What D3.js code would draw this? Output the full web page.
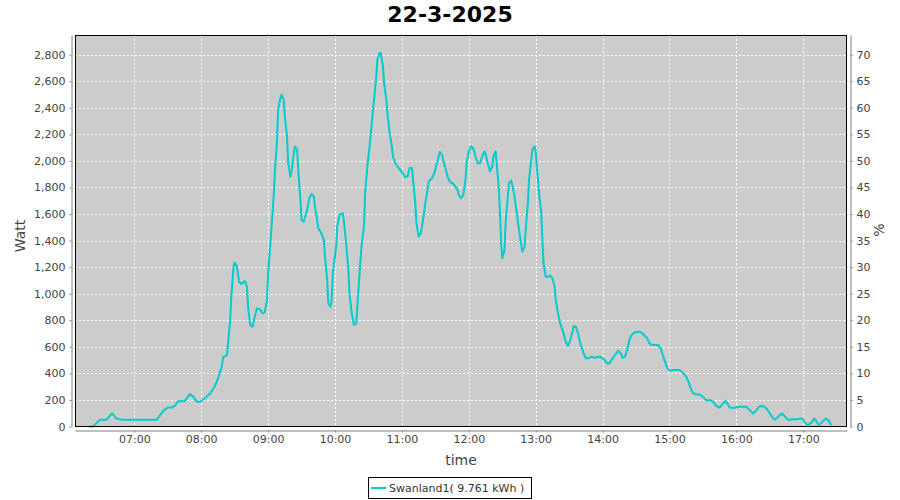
<!DOCTYPE html>
<html><head><meta charset="utf-8">
<script src="https://cdn.jsdelivr.net/npm/d3@7"></script>
<style>body{margin:0;background:#fff}svg{display:block}text{font-family:"DejaVu Sans",sans-serif}</style>
</head><body><svg id="c" width="900" height="500"></svg>
<script>
const chartTitle = "22-3-2025";
const seriesName = "Swanland1( 9.761 kWh )";
const times = ["06:19","06:23","06:29","06:35","06:40","06:44","06:49","07:20","07:26","07:30","07:34","07:37","07:39","07:45","07:50","07:53","07:56","07:59","08:03","08:08","08:12","08:15","08:18","08:20","08:23","08:24","08:26","08:27","08:29","08:30","08:32","08:34","08:36","08:39","08:41","08:42","08:44","08:46","08:48","08:50","08:53","08:55","08:57","08:59","09:00","09:02","09:03","09:05","09:06","09:08","09:09","09:11","09:12","09:14","09:15","09:17","09:18","09:20","09:21","09:23","09:24","09:26","09:27","09:29","09:30","09:32","09:35","09:37","09:39","09:41","09:42","09:44","09:45","09:47","09:50","09:51","09:53","09:54","09:56","09:57","09:58","10:01","10:02","10:04","10:07","10:08","10:10","10:12","10:13","10:15","10:17","10:19","10:20","10:22","10:24","10:26","10:27","10:29","10:31","10:33","10:35","10:37","10:38","10:40","10:41","10:43","10:44","10:46","10:47","10:49","10:51","10:52","10:54","10:56","10:58","11:00","11:03","11:05","11:07","11:09","11:10","11:12","11:13","11:15","11:17","11:19","11:21","11:23","11:24","11:27","11:29","11:31","11:33","11:34","11:36","11:37","11:39","11:41","11:43","11:46","11:48","11:50","11:51","11:53","11:55","11:57","11:58","12:00","12:02","12:04","12:06","12:08","12:10","12:12","12:14","12:15","12:17","12:19","12:21","12:22","12:24","12:25","12:27","12:28","12:29","12:30","12:32","12:33","12:35","12:36","12:38","12:39","12:41","12:43","12:45","12:47","12:48","12:50","12:51","12:53","12:54","12:56","12:57","12:59","13:00","13:01","13:03","13:05","13:06","13:07","13:09","13:11","13:13","13:15","13:17","13:18","13:20","13:22","13:25","13:27","13:29","13:31","13:33","13:34","13:36","13:38","13:40","13:43","13:45","13:47","13:50","13:53","13:57","13:59","14:02","14:04","14:06","14:08","14:11","14:14","14:16","14:18","14:20","14:22","14:24","14:26","14:29","14:32","14:35","14:37","14:40","14:42","14:44","14:50","14:52","14:54","14:56","14:58","15:01","15:03","15:09","15:12","15:15","15:17","15:19","15:21","15:24","15:27","15:30","15:33","15:37","15:39","15:42","15:45","15:48","15:50","15:52","15:54","15:57","16:03","16:09","16:12","16:15","16:18","16:21","16:24","16:27","16:30","16:33","16:35","16:38","16:41","16:44","16:47","16:50","16:54","16:59","17:01","17:04","17:07","17:10","17:12","17:14","17:17","17:20","17:23","17:25"];
const watts = [0,0,50,50,100,60,50,50,118,143,143,161,191,191,244,223,186,186,211,249,299,362,437,525,538,613,801,977,1204,1234,1204,1090,1073,1096,1053,902,764,751,826,890,880,852,860,952,1154,1370,1500,1731,1908,2159,2385,2473,2498,2461,2335,2184,1983,1882,1920,2059,2109,2084,1933,1707,1556,1543,1631,1719,1752,1731,1656,1556,1493,1468,1405,1279,1103,928,902,952,1154,1354,1505,1593,1606,1543,1380,1179,1003,852,764,777,902,1154,1380,1505,1757,1958,2109,2285,2461,2636,2762,2813,2813,2712,2587,2461,2360,2210,2109,2033,1983,1958,1938,1913,1878,1882,1946,1946,1857,1682,1531,1430,1455,1556,1682,1782,1845,1870,1908,1970,2033,2066,2046,2008,1946,1882,1845,1827,1807,1782,1744,1719,1740,1857,1983,2071,2109,2096,2033,1983,1983,2033,2071,2054,1983,1920,1958,2033,2071,1983,1782,1606,1380,1267,1330,1531,1731,1832,1852,1820,1731,1606,1480,1367,1317,1354,1480,1682,1857,2008,2084,2109,2071,1958,1757,1606,1405,1229,1128,1128,1136,1116,1053,952,852,777,701,638,606,651,713,756,751,701,626,550,513,513,525,517,525,520,500,475,475,500,538,570,555,517,525,575,651,689,709,713,706,689,664,626,613,613,588,538,487,437,419,425,425,404,374,336,287,253,241,241,223,198,198,186,153,143,173,193,173,143,140,148,148,123,98,123,153,153,136,98,60,53,78,98,72,48,55,55,60,35,8,27,60,35,8,35,60,42,10];
const leftTicks = [0,200,400,600,800,1000,1200,1400,1600,1800,2000,2200,2400,2600,2800];
const rightTicks = [0,5,10,15,20,25,30,35,40,45,50,55,60,65,70];
const hourTicks = ["07:00","08:00","09:00","10:00","11:00","12:00","13:00","14:00","15:00","16:00","17:00"];
const yLabel = "Watt", y2Label = "%", xLabel = "time";

const day = "2025-03-22T";
const parse = s => new Date(day + s + ":00");
const data = times.map((t, i) => ({t: parse(t), w: watts[i]}));

const L = 75, R = 847, T = 35, B = 426.5;
const svg = d3.select("#c");
const x = d3.scaleTime().domain([new Date(day+"06:06:48"), new Date(day+"17:39:12")]).range([L, R]);
const y = d3.scaleLinear().domain([0, 2948]).range([B, T]);
const y2 = d3.scaleLinear().domain([0, 2948/40]).range([B, T]);

svg.append("rect").attr("x", L).attr("y", T).attr("width", R-L).attr("height", B-T).attr("fill", "#cccccc");

const g = svg.append("g");
hourTicks.forEach(h => {
  const xx = Math.round(x(parse(h))) + 0.5;
  g.append("line").attr("x1", xx).attr("x2", xx).attr("y1", T).attr("y2", B)
    .attr("stroke", "#fff").attr("stroke-dasharray", "2,2");
});
leftTicks.forEach(v => {
  const yy = Math.round(y(v)) + 0.5;
  g.append("line").attr("x1", L).attr("x2", R).attr("y1", yy).attr("y2", yy)
    .attr("stroke", "#fff").attr("stroke-dasharray", "2,2");
});

const line = d3.line().x(d => x(d.t)).y(d => y(d.w));
svg.append("path").datum(data).attr("d", line).attr("fill", "none")
  .attr("stroke", "#00cccc").attr("stroke-width", 2).attr("stroke-linejoin", "round");

svg.append("rect").attr("x", L+0.5).attr("y", T+0.5).attr("width", R-L-1).attr("height", B-T-0.5)
  .attr("fill", "none").attr("stroke", "#000");

const fmtN = d3.format(",");
const axL = d3.axisLeft(y).tickValues(leftTicks).tickFormat(fmtN).tickSizeInner(2).tickSizeOuter(0).tickPadding(4);
const gL = svg.append("g").attr("transform", "translate(71.5,0)").call(axL);
const axR = d3.axisRight(y2).tickValues(rightTicks).tickSizeInner(2).tickSizeOuter(0).tickPadding(4);
const gR = svg.append("g").attr("transform", "translate(850.5,0)").call(axR);
const axB = d3.axisBottom(x).tickValues(hourTicks.map(parse)).tickFormat(d3.timeFormat("%H:%M")).tickSizeInner(2).tickSizeOuter(0).tickPadding(3);
const gB = svg.append("g").attr("transform", "translate(0,430.5)").call(axB);
[gL, gR, gB].forEach(a => {
  a.selectAll(".domain").attr("stroke", "#808080");
  a.selectAll(".tick line").attr("stroke", "#808080");
  a.selectAll("text").attr("fill", "#444").style("font-size", "11px").style("font-family", "DejaVu Sans");
});

svg.append("text").attr("x", 450).attr("y", 22).attr("text-anchor", "middle")
  .style("font-size", "22px").style("font-weight", "bold").attr("fill", "#000").text(chartTitle);
svg.append("text").attr("transform", "translate(25,236) rotate(-90)").attr("text-anchor", "middle")
  .style("font-size", "14px").attr("fill", "#444").text(yLabel);
svg.append("text").attr("transform", "translate(884,230) rotate(-90)").attr("text-anchor", "middle")
  .style("font-size", "14px").attr("fill", "#444").text(y2Label);
svg.append("text").attr("x", 461).attr("y", 465).attr("text-anchor", "middle")
  .style("font-size", "14px").attr("fill", "#444").text(xLabel);

const lg = svg.append("g");
lg.append("rect").attr("x", 368.5).attr("y", 477.5).attr("width", 163).attr("height", 21)
  .attr("fill", "#fff").attr("stroke", "#000");
lg.append("line").attr("x1", 371).attr("x2", 386).attr("y1", 488).attr("y2", 488)
  .attr("stroke", "#00cccc").attr("stroke-width", 2);
lg.append("text").attr("x", 389).attr("y", 492).style("font-size", "11px").attr("fill", "#333").text(seriesName);
</script></body></html>
